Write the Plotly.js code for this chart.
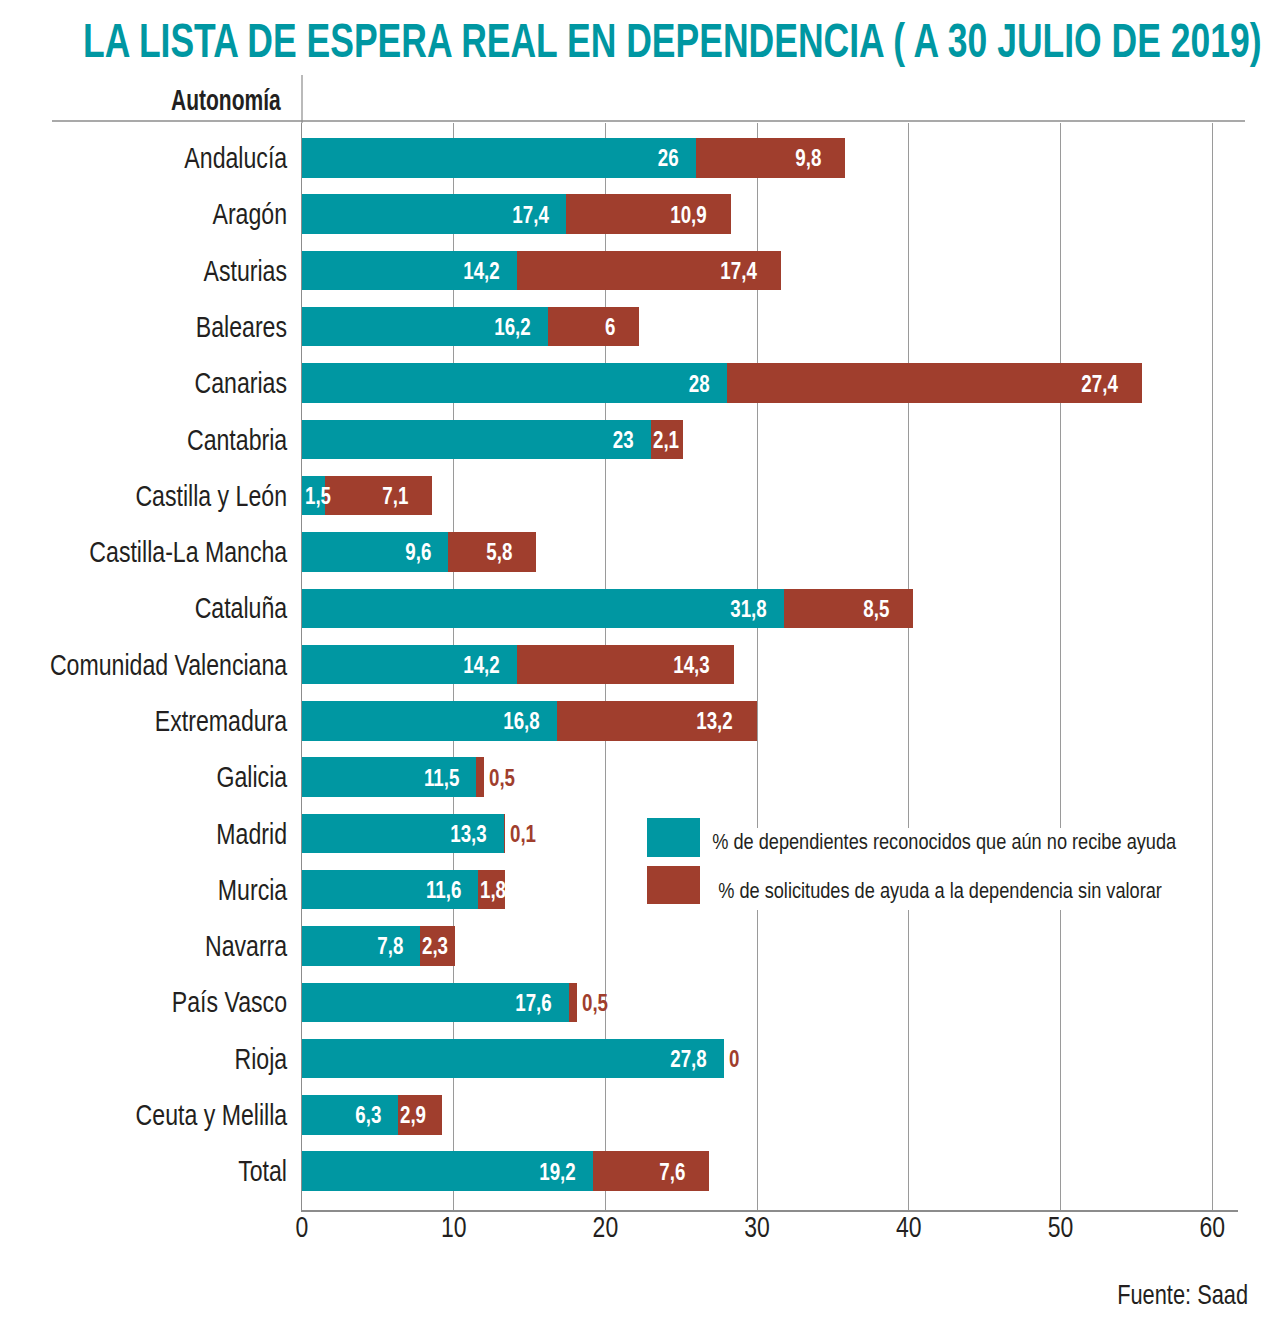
<!DOCTYPE html>
<html>
<head>
<meta charset="utf-8">
<script src="https://cdn.plot.ly/plotly-3.0.1.min.js"></script>
<style>html,body{margin:0;padding:0;background:#fff;}#chart{width:1280px;height:1341px;}</style>
</head>
<body>
<div id="chart"></div>
<script>
const categories = ["Andalucía","Aragón","Asturias","Baleares","Canarias","Cantabria","Castilla y León","Castilla-La Mancha","Cataluña","Comunidad Valenciana","Extremadura","Galicia","Madrid","Murcia","Navarra","País Vasco","Rioja","Ceuta y Melilla","Total"];
const sinAyuda = [26,17.4,14.2,16.2,28,23,1.5,9.6,31.8,14.2,16.8,11.5,13.3,11.6,7.8,17.6,27.8,6.3,19.2];
const sinValorar = [9.8,10.9,17.4,6,27.4,2.1,7.1,5.8,8.5,14.3,13.2,0.5,0.1,1.8,2.3,0.5,0,2.9,7.6];
const xTicks = [0,10,20,30,40,50,60];
const seriesNames = ["% de dependientes reconocidos que aún no recibe ayuda","% de solicitudes de ayuda a la dependencia sin valorar"];
const titleText = "LA LISTA DE ESPERA REAL EN DEPENDENCIA ( A 30 JULIO DE 2019)";

const TEAL = "#0097a2";
const RED = "#a03e2d";
const FONT = "'Liberation Sans', Arial, sans-serif";
const DARK = "#231f20";
const fmt = v => String(v).replace('.', ',');

// plot area in pixels
const L = 302, R = 1238, T = 123, B = 1210;
const W = R - L, H = B - T;
const px = x => (x - L) / W;
const py = y => (B - y) / H;

const traces = [
  {type:'bar', orientation:'h', y:categories, x:sinAyuda, name:seriesNames[0],
   marker:{color:TEAL, line:{width:0}}, width:0.7, hoverinfo:'x+y'},
  {type:'bar', orientation:'h', y:categories, x:sinValorar, name:seriesNames[1],
   marker:{color:RED, line:{width:0}}, width:0.7, hoverinfo:'x+y'}
];

const annotations = [];
const groups = [];
const labFont = {family:FONT, size:24, color:'#ffffff', weight:700};
categories.forEach((c, i) => {
  const a = sinAyuda[i], b = sinValorar[i];
  if (a >= 3) {
    annotations.push({x:a, y:c, xref:'x', yref:'y', text:fmt(a), showarrow:false, xanchor:'right', xshift:-15, font:labFont});
  } else {
    annotations.push({x:0, y:c, xref:'x', yref:'y', text:fmt(a), showarrow:false, xanchor:'left', xshift:1, font:labFont});
  }
  groups.push('bar');
  if (b >= 4) {
    annotations.push({x:a+b, y:c, xref:'x', yref:'y', text:fmt(b), showarrow:false, xanchor:'right', xshift:-22, font:labFont});
  } else if (b >= 1) {
    annotations.push({x:a, y:c, xref:'x', yref:'y', text:fmt(b), showarrow:false, xanchor:'left', xshift:0, font:labFont});
  } else {
    annotations.push({x:a+b, y:c, xref:'x', yref:'y', text:fmt(b), showarrow:false, xanchor:'left', xshift:3, font:{family:FONT, size:24, color:RED, weight:700}});
  }
  groups.push('bar');
});

annotations.push({x:px(283), y:py(99), xref:'paper', yref:'paper', text:'Autonomía', showarrow:false, xanchor:'right', yanchor:'middle', font:{family:FONT, size:30, color:DARK, weight:700}});
groups.push('autonomia');
annotations.push({x:px(710), y:py(842), xref:'paper', yref:'paper', text:seriesNames[0], showarrow:false, xanchor:'left', yanchor:'middle', font:{family:FONT, size:22, color:DARK}});
groups.push('legend');
annotations.push({x:px(716), y:py(890), xref:'paper', yref:'paper', text:seriesNames[1], showarrow:false, xanchor:'left', yanchor:'middle', font:{family:FONT, size:22, color:DARK}});
groups.push('legend');
annotations.push({x:px(1250), y:py(1294), xref:'paper', yref:'paper', text:'Fuente: Saad', showarrow:false, xanchor:'right', yanchor:'middle', font:{family:FONT, size:28, color:DARK}});
groups.push('fuente');

const shapes = [
  {type:'line', xref:'paper', yref:'paper', x0:px(52), x1:px(1245), y0:py(121), y1:py(121), line:{color:'#8c8c8c', width:1.5}, layer:'above'},
  {type:'line', xref:'paper', yref:'paper', x0:0, x1:0, y0:1, y1:py(75), line:{color:'#8c8c8c', width:1.2}, layer:'above'},
  {type:'rect', xref:'paper', yref:'paper', x0:px(704), x1:px(1186), y0:py(910), y1:py(828), fillcolor:'#ffffff', line:{width:0}, layer:'above'},
  {type:'rect', xref:'paper', yref:'paper', x0:px(647), x1:px(700), y0:py(857), y1:py(818), fillcolor:TEAL, line:{width:0}, layer:'above'},
  {type:'rect', xref:'paper', yref:'paper', x0:px(647), x1:px(700), y0:py(904), y1:py(866), fillcolor:RED, line:{width:0}, layer:'above'}
];

const layout = {
  width:1280, height:1341,
  margin:{l:L, r:1280-R, t:T, b:1341-B, pad:0},
  paper_bgcolor:'#ffffff', plot_bgcolor:'#ffffff',
  barmode:'stack', showlegend:false,
  font:{family:FONT, color:DARK},
  title:{text:titleText, x:83/1280, xanchor:'left', xref:'container', y:1-40/1341, yanchor:'middle', yref:'container',
         font:{family:FONT, size:49, color:TEAL, weight:700}},
  xaxis:{range:[0, 61.7], tickvals:xTicks, ticktext:xTicks.map(String), showgrid:true, gridcolor:'#9a9a9a', gridwidth:1,
         zeroline:false, showline:true, linecolor:'#8c8c8c', linewidth:1.5, ticks:'',
         tickfont:{family:FONT, size:29, color:DARK}, fixedrange:true},
  yaxis:{type:'category', categoryarray:categories, categoryorder:'array', autorange:false, range:[18.69, -0.62],
         showgrid:false, zeroline:false, showline:true, linecolor:'#8c8c8c', linewidth:1.2,
         ticks:'outside', ticklen:8, tickcolor:'rgba(0,0,0,0)', tickfont:{family:FONT, size:29, color:DARK}, fixedrange:true},
  annotations:annotations,
  shapes:shapes
};

// horizontal condensing of text to mimic the condensed typeface of the original
function condense(el, s, mode, dy) {
  const bb = el.getBBox();
  const ax = mode === 'end' ? bb.x + bb.width : (mode === 'start' ? bb.x : bb.x + bb.width / 2);
  const prev = el.getAttribute('transform') || '';
  el.setAttribute('transform', (prev + ' translate(' + ax + ',' + (dy || 0) + ') scale(' + s + ',1) translate(' + (-ax) + ',0)').trim());
}
function widthOf(el) { return el.getBBox().width; }

Plotly.newPlot('chart', traces, layout, {displayModeBar:false, staticPlot:true}).then(gd => {
  const yt = Array.from(gd.querySelectorAll('.ytick text'));
  const cv = yt.find(t => t.textContent === 'Comunidad Valenciana');
  const sY = cv ? 238 / widthOf(cv) : 0.82;
  yt.forEach(t => condense(t, sY, 'end', 0));
  const xt = Array.from(gd.querySelectorAll('.xtick text'));
  const ten = xt.find(t => t.textContent === '10');
  const sX = ten ? 25.6 / widthOf(ten) : 0.82;
  xt.forEach(t => condense(t, sX, 'middle', -9));
  const annEls = Array.from(gd.querySelectorAll('.annotation'));
  const byIdx = {};
  annEls.forEach(g => { byIdx[+g.getAttribute('data-index')] = g.querySelector('.annotation-text'); });
  const n = annotations.length;
  const refBar = byIdx[2];
  const sBar = refBar ? 37 / widthOf(refBar) : 0.75;
  const sAut = byIdx[n - 4] ? 110 / widthOf(byIdx[n - 4]) : 0.82;
  const sLeg = byIdx[n - 3] ? 465 / widthOf(byIdx[n - 3]) : 0.82;
  const sFue = byIdx[n - 1] ? 131 / widthOf(byIdx[n - 1]) : 0.82;
  const sMap = {bar:sBar, autonomia:sAut, legend:sLeg, fuente:sFue};
  annotations.forEach((a, i) => {
    const el = byIdx[i]; if (!el) return;
    const mode = a.xanchor === 'right' ? 'end' : (a.xanchor === 'left' ? 'start' : 'middle');
    condense(el, sMap[groups[i]], mode, 0);
  });
  const tt = gd.querySelector('.gtitle');
  if (tt) condense(tt, 1179 / widthOf(tt), 'start', 0);
});
</script>
</body>
</html>
